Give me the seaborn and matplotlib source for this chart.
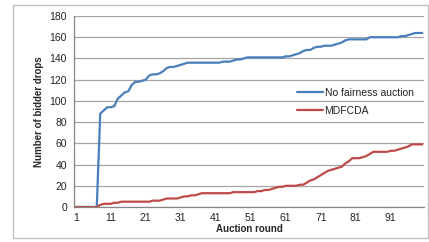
import numpy as np
import pandas as pd
import matplotlib
matplotlib.use("Agg")
import matplotlib.pyplot as plt
import seaborn as sns
from matplotlib.patches import Rectangle

rounds = list(range(1, 101))
no_fairness = [0, 0, 0, 0, 0, 0, 0, 88, 91, 94,
               94, 95, 102, 105, 108, 109, 115, 118, 118, 119,
               120, 124, 125, 125, 126, 128, 131, 132, 132, 133,
               134, 135, 136, 136, 136, 136, 136, 136, 136, 136,
               136, 136, 137, 137, 137, 138, 139, 139, 140, 141,
               141, 141, 141, 141, 141, 141, 141, 141, 141, 141,
               142, 142, 143, 144, 145, 147, 148, 148, 150, 151,
               151, 152, 152, 152, 153, 154, 155, 157, 158, 158,
               158, 158, 158, 158, 160, 160, 160, 160, 160, 160,
               160, 160, 160, 161, 161, 162, 163, 164, 164, 164]
mdfcda = [0, 0, 0, 0, 0, 0, 0, 2, 3, 3,
          3, 4, 4, 5, 5, 5, 5, 5, 5, 5,
          5, 5, 6, 6, 6, 7, 8, 8, 8, 8,
          9, 10, 10, 11, 11, 12, 13, 13, 13, 13,
          13, 13, 13, 13, 13, 14, 14, 14, 14, 14,
          14, 14, 15, 15, 16, 16, 17, 18, 19, 19,
          20, 20, 20, 20, 21, 21, 23, 25, 26, 28,
          30, 32, 34, 35, 36, 37, 38, 41, 43, 46,
          46, 46, 47, 48, 50, 52, 52, 52, 52, 52,
          53, 53, 54, 55, 56, 57, 59, 59, 59, 59]
series_names = ["No fairness auction", "MDFCDA"]
colors = ["#4A7EBB", "#BE4B48"]
x_ticks = [1, 11, 21, 31, 41, 51, 61, 71, 81, 91]
y_ticks = [0, 20, 40, 60, 80, 100, 120, 140, 160, 180]

df = pd.DataFrame({
    "round": rounds * 2,
    "value": no_fairness + mdfcda,
    "series": [series_names[0]] * len(rounds) + [series_names[1]] * len(rounds),
})

sns.set_style("white")
plt.rcParams["font.family"] = ["Liberation Sans", "DejaVu Sans"]

W, H = 429, 242
fig = plt.figure(figsize=(W / 100, H / 100), dpi=100)
fig.patches.append(Rectangle((13 / W, 1 - 238 / H), (428 - 13) / W, (238 - 5) / H,
                             transform=fig.transFigure, fill=False,
                             edgecolor="#BFBFBF", linewidth=1.0))
ax = fig.add_axes([74 / W, 1 - 207 / H, (424 - 74) / W, (207 - 16) / H])

sns.lineplot(data=df, x="round", y="value", hue="series",
             palette=dict(zip(series_names, colors)), linewidth=1.6,
             ax=ax, legend=True)

ax.set_xlim(0.5, 100.5)
ax.set_ylim(0, 180)
ax.set_xticks(x_ticks)
ax.set_yticks(y_ticks)
ax.tick_params(axis="y", length=3, color="#868686", labelsize=7.5, pad=2, labelcolor="#222222")
ax.tick_params(axis="x", length=0, labelsize=7.5, pad=4, labelcolor="#222222")
ax.yaxis.grid(True, color="#A6A6A6", linewidth=0.9)
ax.xaxis.grid(False)
ax.set_axisbelow(True)
for s in ["top", "right"]:
    ax.spines[s].set_visible(False)
for s in ["left", "bottom"]:
    ax.spines[s].set_color("#868686")
    ax.spines[s].set_linewidth(0.9)
ax.set_xlabel("Auction round", fontsize=7, fontweight="bold", labelpad=1)
ax.set_ylabel("Number of bidder drops", fontsize=7, fontweight="bold", labelpad=4)

leg = ax.legend(loc="upper left", bbox_to_anchor=(297 / W, 1 - 88 / H),
                bbox_transform=fig.transFigure, frameon=False, fontsize=7.5,
                handlelength=2.5, handletextpad=0.15, labelspacing=0.75,
                borderpad=0, borderaxespad=0)
for t in leg.get_texts():
    t.set_color("#222222")

fig.savefig("out.png", dpi=100)
